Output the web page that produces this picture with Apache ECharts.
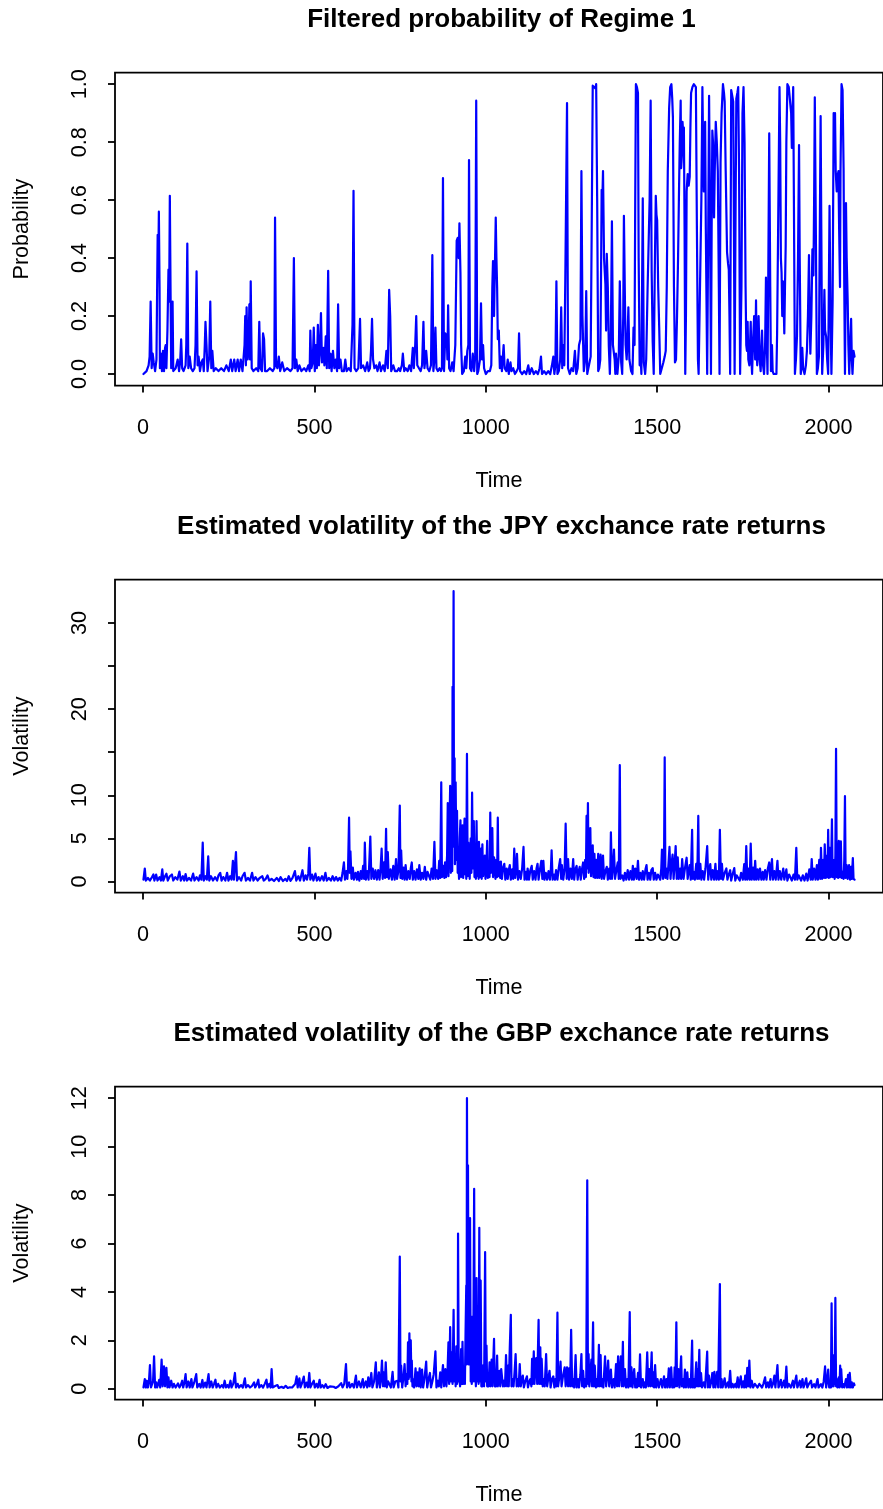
<!DOCTYPE html>
<html>
<head>
<meta charset="utf-8">
<script src="https://cdn.jsdelivr.net/npm/echarts@6/dist/echarts.min.js"></script>
<style>
html,body{margin:0;padding:0;background:#fff;}
#chart{width:883px;height:1509px;}
</style>
</head>
<body>
<div id="chart"></div>
<script>
// ---------- DATA ----------
const titles = [
  'Filtered probability of Regime 1',
  'Estimated volatility of the JPY exchance rate returns',
  'Estimated volatility of the GBP exchance rate returns'
];
const yNames = ['Probability', 'Volatility', 'Volatility'];
const xName = 'Time';
const xTicks = [0, 500, 1000, 1500, 2000];
const yTicksProb = [0, 0.2, 0.4, 0.6, 0.8, 1.0];
const yTicksJPY = [0, 5, 10, 15, 20, 25, 30];
const yLabelsJPY = [0, 5, 10, 20, 30];
const yTicksGBP = [0, 2, 4, 6, 8, 10, 12];

// [time, probability]
const regimeProb = [
[1,0],[10,0.01],[16,0.03],[19,0.06],[22,0.25],[25,0.02],[28,0.07],[31,0.04],[35,0.01],[39,0.05],[41,0.3],[42.5,0.48],[44,0.35],[46,0.56],[48,0.3],[49,0.02],[52,0.07],[55,0.01],[58,0.08],[61,0.01],[64,0.09],[66,0.1],[68,0.02],[71,0.15],[74,0.36],[76,0.25],[78,0.615],[80,0.3],[82,0.02],[86,0.25],[88,0.01],[95,0.02],[101,0.05],[105,0.01],[108,0.04],[111,0.12],[114,0.02],[118,0.01],[124,0.03],[126,0.1],[129,0.45],[132,0.02],[136,0.06],[140,0.02],[145,0.01],[150,0.02],[153,0.1],[156,0.354],[159,0.03],[162,0.06],[166,0.01],[170,0.04],[174,0.05],[177,0.01],[180,0.1],[182,0.18],[185,0.1],[188,0.01],[193,0.06],[196,0.25],[199,0.02],[202,0.08],[206,0.01],[212,0.02],[220,0.01],[228,0.02],[236,0.01],[243,0.03],[250,0.01],[256,0.05],[260,0.01],[266,0.05],[270,0.01],[276,0.05],[280,0.01],[285,0.05],[290,0.01],[296,0.1],[298,0.2],[300,0.03],[302,0.23],[305,0.05],[308,0.1],[310,0.24],[312,0.05],[314,0.32],[317,0.02],[322,0.01],[330,0.02],[336,0.01],[339,0.18],[342,0.02],[347,0.01],[350,0.14],[353,0.12],[356,0.01],[362,0.01],[370,0.02],[378,0.01],[383,0.02],[385,0.54],[388,0.03],[392,0.02],[396,0.06],[400,0.01],[406,0.04],[412,0.01],[420,0.02],[430,0.01],[436,0.02],[440,0.40],[443,0.02],[447,0.05],[451,0.01],[456,0.03],[462,0.01],[470,0.02],[476,0.01],[482,0.03],[486,0.01],[488,0.15],[491,0.02],[495,0.04],[498,0.16],[501,0.01],[504,0.1],[507,0.02],[510,0.17],[513,0.03],[516,0.08],[519,0.21],[522,0.04],[526,0.09],[529,0.03],[533,0.13],[536,0.02],[540,0.356],[543,0.02],[547,0.07],[550,0.01],[554,0.08],[558,0.02],[562,0.05],[566,0.01],[569,0.24],[572,0.02],[576,0.05],[580,0.01],[586,0.01],[590,0.05],[594,0.01],[600,0.02],[606,0.01],[611,0.17],[614,0.632],[617,0.02],[622,0.01],[628,0.02],[633,0.19],[636,0.02],[642,0.03],[648,0.01],[654,0.04],[658,0.01],[662,0.02],[665,0.08],[668,0.19],[671,0.05],[675,0.02],[680,0.03],[684,0.01],[690,0.04],[694,0.01],[700,0.03],[705,0.01],[710,0.08],[714,0.02],[718,0.29],[721,0.2],[724,0.01],[730,0.03],[735,0.01],[741,0.01],[746,0.02],[750,0.01],[755,0.03],[758,0.07],[762,0.01],[766,0.02],[772,0.01],[777,0.03],[782,0.01],[787,0.09],[790,0.02],[794,0.1],[797,0.2],[800,0.03],[805,0.02],[810,0.01],[814,0.03],[818,0.18],[821,0.02],[826,0.08],[830,0.02],[835,0.01],[840,0.03],[844,0.41],[847,0.01],[850,0.05],[853,0.16],[856,0.02],[860,0.01],[865,0.02],[869,0.01],[872,0.02],[875,0.676],[878,0.01],[882,0.14],[886,0.13],[888,0.05],[890,0.237],[893,0.02],[897,0.01],[902,0.04],[906,0.01],[911,0.1],[915,0.46],[918,0.47],[921,0.4],[923,0.52],[926,0.35],[928,0.1],[931,0.0],[936,0.01],[940,0.06],[943,0.02],[946,0.08],[949,0.1],[951,0.738],[954,0.02],[958,0.01],[962,0.07],[966,0.01],[969,0.06],[972,0.943],[975,0.0],[978,0.01],[983,0.05],[986,0.244],[989,0.05],[992,0.1],[995,0.02],[1000,0.0],[1006,0.01],[1012,0.01],[1016,0.03],[1019,0.3],[1021,0.39],[1024,0.2],[1027,0.4],[1029,0.54],[1031,0.4],[1033,0.3],[1035,0.12],[1038,0.15],[1041,0.02],[1044,0.06],[1047,0.01],[1052,0.1],[1055,0.02],[1060,0.01],[1064,0.05],[1067,0.0],[1072,0.04],[1075,0.01],[1080,0.02],[1085,0.0],[1090,0.01],[1094,0.02],[1097,0.14],[1100,0.01],[1106,0.0],[1112,0.01],[1118,0.0],[1124,0.03],[1128,0.0],[1134,0.02],[1140,0.0],[1146,0.01],[1152,0.0],[1157,0.02],[1161,0.06],[1164,0.0],[1170,0.01],[1176,0.0],[1182,0.01],[1188,0.0],[1193,0.03],[1197,0.06],[1200,0.0],[1203,0.03],[1206,0.32],[1209,0.0],[1213,0.01],[1217,0.05],[1220,0.23],[1223,0.02],[1226,0.1],[1229,0.03],[1232,0.33],[1237,0.935],[1240,0.02],[1245,0.0],[1250,0.02],[1255,0.01],[1260,0.08],[1264,0.0],[1268,0.02],[1272,0.1],[1276,0.12],[1279,0.70],[1282,0.2],[1286,0.01],[1290,0.05],[1293,0.286],[1296,0.0],[1301,0.0],[1306,0.06],[1309,0.5],[1312,0.995],[1317,0.99],[1320,0.985],[1322,1.0],[1325,0.6],[1328,0.01],[1331,0.02],[1334,0.05],[1336,0.3],[1338,0.635],[1340,0.6],[1342,0.70],[1345,0.4],[1349,0.31],[1351,0.15],[1353,0.415],[1356,0.3],[1359,0.095],[1362,0.0],[1365,0.15],[1368,0.527],[1371,0.1],[1373,0.095],[1376,0.05],[1378,0.0],[1380,0.07],[1384,0.0],[1388,0.06],[1391,0.32],[1395,0.04],[1398,0.0],[1401,0.2],[1403,0.546],[1406,0.25],[1408,0.1],[1411,0.05],[1413,0.1],[1416,0.23],[1419,0.05],[1424,0.01],[1428,0.0],[1431,0.16],[1434,0.1],[1436,0.6],[1438,1.0],[1441,0.99],[1444,0.97],[1446,0.4],[1449,0.03],[1451,0.08],[1454,0.0],[1458,0.606],[1461,0.04],[1465,0.0],[1468,0.05],[1472,0.29],[1475,0.29],[1478,0.6],[1481,0.943],[1484,0.35],[1487,0.11],[1490,0.0],[1493,0.35],[1496,0.615],[1498,0.55],[1500,0.53],[1503,0.3],[1506,0.16],[1509,0.0],[1513,0.0],[1518,0.04],[1522,0.06],[1525,0.08],[1528,0.3],[1531,0.7],[1535,0.92],[1538,0.99],[1541.6,1.0],[1544,0.95],[1546,0.885],[1549,0.3],[1552,0.04],[1555,0.05],[1558,0.2],[1561,0.4],[1564,0.65],[1566,0.8],[1568.6,0.943],[1570,0.71],[1572,0.75],[1574,0.87],[1576,0.83],[1578,0.85],[1580,0.5],[1582,0.0],[1584,0.2],[1586,0.63],[1589,0.69],[1592,0.65],[1595,0.68],[1597,0.85],[1599,0.97],[1603,0.99],[1607,1.0],[1611,1.0],[1613,0.99],[1616,0.5],[1619,0.05],[1621,0.0],[1626,0.0],[1629,0.6],[1632,0.99],[1634,0.8],[1636,0.63],[1638,0.75],[1640,0.87],[1642,0.5],[1644,0.25],[1646,0.0],[1649,0.5],[1651.5,0.96],[1654,0.6],[1657,0.0],[1659,0.5],[1661,0.84],[1663,0.8],[1666,0.54],[1668,0.7],[1671,0.87],[1674,0.8],[1677,0.7],[1680,0.3],[1682,0.0],[1685,0.73],[1688,0.9],[1692,1.0],[1695,0.97],[1697,0.94],[1700,0.7],[1704,0.42],[1707,0.38],[1709,0.36],[1711,0.2],[1713,0.0],[1716,0.98],[1719,0.96],[1722,0.94],[1724,0.5],[1726,0.0],[1729,0.6],[1731,0.95],[1734,0.97],[1736.5,0.99],[1739,0.7],[1742,0.0],[1746,0.3],[1749,0.9],[1752,0.99],[1755,0.8],[1758,0.3],[1760,0.1],[1762,0.08],[1764,0.18],[1766,0.05],[1769,0.03],[1771,0.1],[1773,0.18],[1775,0.05],[1777,0.0],[1780,0.12],[1783,0.2],[1786,0.05],[1788.5,0.254],[1790,0.1],[1792,0.03],[1794,0.1],[1796,0.2],[1799,0.05],[1802,0.01],[1804,0.08],[1806,0.15],[1809,0.03],[1812,0.0],[1815,0.1],[1817.5,0.333],[1820,0.1],[1822,0.0],[1824,0.3],[1827,0.83],[1830,0.3],[1832,0.01],[1835,0.1],[1837,0.01],[1840,0.0],[1848,0.0],[1850,0.14],[1853,0.5],[1857,0.99],[1859,0.8],[1861,0.4],[1863,0.35],[1865,0.2],[1867,0.32],[1869,0.25],[1871,0.14],[1873,0.3],[1875,0.44],[1877,0.8],[1880,1.0],[1884,0.99],[1888,0.995],[1891,0.9],[1893,0.78],[1895,0.9],[1897,0.99],[1899,0.6],[1902,0.0],[1905,0.05],[1908,0.13],[1911,0.4],[1914,0.79],[1916,0.4],[1919,0.0],[1921,0.02],[1923.5,0.09],[1926,0.02],[1930,0.0],[1934,0.03],[1937,0.08],[1940,0.2],[1943,0.41],[1945,0.2],[1947,0.07],[1950,0.2],[1953,0.43],[1956,0.34],[1958,0.6],[1960,0.955],[1963,0.5],[1966,0.0],[1969,0.02],[1972,0.06],[1974,0.4],[1977,0.89],[1979,0.5],[1981.5,0.0],[1985,0.1],[1988,0.29],[1990,0.15],[1993,0.13],[1996,0.05],[1999,0.0],[2001,0.3],[2003,0.58],[2006,0.2],[2008.5,0.0],[2010,0.1],[2012,0.25],[2015,0.9],[2017,0.88],[2019,0.9],[2021,0.7],[2024,0.63],[2026,0.68],[2029,0.7],[2031,0.5],[2033.5,0.3],[2035,0.7],[2038,1.0],[2041,0.98],[2044,0.71],[2046,0.3],[2048,0.0],[2050,0.3],[2051,0.59],[2053,0.4],[2056,0.25],[2058,0.1],[2060.5,0.0],[2063,0.1],[2066,0.19],[2068,0.05],[2070,0.0],[2073,0.08],[2076,0.06]
];

// [time, volatility] JPY
const volJPY = [
[1,0.2],[5,1.5],[8,0.1],[14,0.4],[20,0.1],[26,0.5],[30,0.8],[33,0.1],[38,0.8],[42,0.1],[48,0.5],[52,0.1],[56,1.4],[59,0.1],[64,0.6],[68,0.9],[72,0.1],[78,0.6],[84,0.8],[88,0.1],[94,0.5],[100,0.2],[106,1.15],[110,0.1],[116,0.6],[120,0.1],[124,0.85],[128,0.1],[134,0.4],[140,0.1],[146,0.9],[150,0.1],[156,0.5],[162,0.1],[166,0.7],[170,0.2],[174,4.5],[177,0.1],[182,0.6],[186,0.2],[190,2.9],[193,0.1],[198,0.6],[204,0.1],[210,0.5],[216,0.1],[220,0.7],[225,1.0],[229,0.1],[234,0.5],[240,0.1],[245,1.0],[249,0.1],[254,0.6],[258,0.2],[262,2.4],[265,0.2],[271,3.4],[274,0.1],[280,0.5],[286,0.1],[290,0.6],[296,1.0],[300,0.1],[306,0.4],[312,0.1],[318,1.0],[322,0.1],[328,0.5],[334,0.1],[340,0.4],[348,0.6],[352,0.1],[358,0.3],[363,0.7],[368,0.1],[375,0.3],[382,0.05],[390,0.4],[396,0.05],[401,0.5],[408,0.05],[415,0.3],[420,0.05],[425,0.6],[430,0.05],[436,0.4],[443,1.2],[447,0.1],[453,0.6],[458,0.1],[465,1.3],[469,0.1],[474,0.7],[478,0.2],[482,0.9],[485,3.9],[488,0.2],[493,0.8],[497,0.1],[503,0.9],[507,0.1],[512,0.5],[516,0.1],[522,0.6],[527,0.1],[532,1.0],[536,0.1],[542,0.4],[548,0.1],[553,0.6],[558,0.1],[563,0.5],[568,0.1],[573,0.4],[578,0.1],[582,1.0],[586,2.2],[589,0.2],[593,1.2],[596,0.3],[598,1.5],[601,7.4],[603,1.0],[605,3.5],[608,0.3],[612,1.6],[615,0.2],[620,1.0],[624,0.2],[627,1.1],[631,0.1],[635,1.2],[638,0.3],[642,1.8],[645,0.3],[647,4.5],[650,0.2],[654,1.2],[658,0.2],[663,5.2],[666,0.3],[670,1.5],[674,0.3],[678,1.3],[682,0.2],[686,1.3],[690,0.2],[693,1.5],[696,3.8],[699,0.3],[703,2.2],[706,0.4],[709,6.1],[711,0.5],[714,3.4],[717,0.3],[722,1.4],[726,0.2],[730,1.8],[734,0.2],[738,2.6],[741,0.3],[745,1.2],[749,8.8],[751,0.4],[753,3.6],[756,0.3],[760,1.6],[763,0.2],[766,1.9],[770,0.2],[774,1.2],[778,0.3],[781,1.5],[784,2.2],[787,0.2],[791,1.2],[795,0.2],[799,1.4],[803,0.3],[806,1.9],[810,0.2],[814,1.0],[818,0.3],[822,1.7],[826,0.2],[830,1.1],[835,1.2],[838,0.2],[842,1.5],[846,0.3],[850,4.6],[853,0.3],[857,1.3],[861,0.3],[864,2.4],[867,0.4],[870,11.5],[872,0.5],[876,1.8],[879,0.4],[881,2.2],[884,0.5],[887,3.0],[889,9.1],[891,0.6],[893,4.0],[896,11.1],[898,1.0],[900,8.4],[902,1.2],[903,22.6],[904,4.0],[906,33.7],[907,10.0],[909,14.3],[910,2.0],[912,11.5],[914,2.5],[916,8.2],[918,1.0],[920,1.9],[922,0.3],[924,5.0],[926,7.1],[928,0.5],[930,4.5],[932,6.5],[934,0.4],[936,5.0],[938,7.3],[940,0.8],[942,3.0],[943,0.3],[945,14.8],[947,0.6],[949,4.5],[951,2.6],[953,0.3],[956,5.0],[958,1.0],[960,10.3],[962,1.5],[965,7.0],[967,0.5],[969,2.2],[971,0.3],[973,7.0],[975,0.6],[977,3.5],[979,0.3],[980,4.6],[983,0.5],[986,3.8],[988,0.3],[990,4.3],[992,0.6],[995,2.5],[997,3.0],[999,0.3],[1002,2.0],[1004,4.7],[1006,0.4],[1009,2.2],[1011,0.5],[1013,8.0],[1015,1.0],[1017,3.5],[1019,6.2],[1021,0.5],[1024,2.8],[1026,2.2],[1028,0.3],[1031,2.5],[1033,0.5],[1035,7.4],[1037,0.6],[1040,2.2],[1042,0.4],[1044,2.3],[1047,0.3],[1050,1.5],[1054,2.05],[1057,0.2],[1061,1.5],[1064,0.3],[1067,1.3],[1070,1.9],[1073,0.2],[1077,1.4],[1080,0.3],[1083,3.8],[1086,0.4],[1089,1.6],[1091,3.2],[1094,0.2],[1098,1.2],[1102,0.3],[1106,1.5],[1110,4.0],[1113,0.2],[1117,1.1],[1120,0.2],[1122,1.5],[1126,0.2],[1130,1.3],[1134,1.8],[1137,0.2],[1141,1.2],[1145,0.2],[1148,1.5],[1151,2.05],[1154,0.2],[1158,1.4],[1162,2.4],[1165,0.3],[1168,2.4],[1171,0.2],[1175,1.0],[1179,0.2],[1183,1.2],[1187,0.2],[1190,1.5],[1192,3.6],[1195,0.2],[1199,0.8],[1202,0.2],[1205,1.3],[1209,0.2],[1213,1.6],[1217,2.6],[1220,0.3],[1222,1.9],[1226,0.2],[1230,1.5],[1233,6.7],[1236,0.3],[1240,2.6],[1243,0.2],[1247,1.5],[1251,0.3],[1255,2.6],[1258,0.2],[1261,1.4],[1265,1.8],[1268,0.2],[1271,1.2],[1274,1.7],[1277,0.2],[1281,1.5],[1284,2.2],[1287,0.3],[1290,2.5],[1292,0.5],[1294,7.6],[1296,1.5],[1298,9.1],[1300,1.0],[1303,3.0],[1305,6.2],[1307,0.6],[1310,3.0],[1312,4.2],[1314,0.5],[1317,3.2],[1319,0.4],[1322,2.5],[1325,0.4],[1328,3.2],[1331,0.4],[1335,3.1],[1338,0.3],[1342,3.0],[1345,0.3],[1349,1.2],[1353,1.7],[1356,0.2],[1360,1.5],[1363,0.3],[1365,5.7],[1368,0.3],[1371,1.5],[1374,3.7],[1377,0.3],[1381,1.3],[1385,2.2],[1388,0.3],[1391,13.5],[1393,0.3],[1398,0.7],[1402,0.1],[1406,1.0],[1410,0.2],[1414,1.3],[1418,0.2],[1422,1.2],[1426,0.2],[1429,1.8],[1432,0.2],[1436,1.5],[1440,0.3],[1444,2.4],[1447,0.2],[1451,1.0],[1455,0.2],[1458,1.2],[1462,0.2],[1466,1.4],[1469,1.9],[1472,0.2],[1476,1.0],[1480,0.2],[1483,1.3],[1487,1.55],[1490,0.2],[1494,1.0],[1498,0.2],[1502,0.8],[1506,0.9],[1509,0.2],[1512,1.5],[1514,3.7],[1517,0.3],[1520,2.0],[1522,14.4],[1524,0.4],[1527,1.5],[1530,0.3],[1533,2.0],[1536,4.0],[1539,0.3],[1542,2.0],[1545,3.1],[1548,0.3],[1551,2.0],[1554,4.1],[1557,0.3],[1560,2.8],[1563,0.3],[1567,1.5],[1570,0.3],[1573,2.6],[1577,0.3],[1581,1.5],[1586,2.75],[1589,0.3],[1592,1.2],[1595,1.9],[1598,0.2],[1602,6.0],[1604,0.3],[1607,1.1],[1610,0.2],[1614,2.05],[1617,0.3],[1620,7.6],[1622,0.3],[1626,2.05],[1629,0.2],[1633,1.2],[1637,0.2],[1641,1.5],[1646,4.1],[1649,0.2],[1652,1.4],[1655,2.0],[1658,0.2],[1662,1.3],[1666,0.2],[1670,2.05],[1673,0.2],[1677,1.2],[1680,0.2],[1683,6.0],[1686,0.3],[1689,2.05],[1692,0.2],[1697,1.0],[1702,1.5],[1705,0.2],[1709,0.8],[1713,1.3],[1716,0.1],[1720,0.8],[1725,1.55],[1728,0.1],[1732,0.7],[1737,0.9],[1741,0.1],[1745,1.0],[1750,0.2],[1754,2.0],[1757,0.2],[1760,4.1],[1763,0.2],[1767,1.5],[1770,0.2],[1773,4.4],[1776,0.2],[1780,1.6],[1783,0.2],[1786,2.4],[1789,0.2],[1793,1.4],[1796,0.2],[1800,1.5],[1804,0.2],[1808,1.1],[1811,0.2],[1815,1.3],[1819,0.2],[1823,1.5],[1827,2.2],[1830,0.2],[1835,2.6],[1838,0.2],[1842,1.2],[1846,0.2],[1851,2.4],[1854,0.2],[1858,1.2],[1862,0.2],[1868,1.5],[1871,0.2],[1877,1.4],[1880,0.1],[1885,0.8],[1890,1.0],[1893,0.1],[1898,0.8],[1902,0.2],[1906,3.9],[1909,0.2],[1913,0.7],[1916,0.9],[1920,0.1],[1925,0.7],[1930,0.1],[1935,0.9],[1939,0.1],[1944,1.4],[1948,0.2],[1951,2.6],[1954,0.2],[1958,1.5],[1962,0.2],[1966,1.9],[1969,0.2],[1973,2.5],[1976,0.3],[1978,3.9],[1981,0.3],[1985,2.5],[1987,0.4],[1989,4.3],[1992,0.4],[1995,3.0],[1997,0.5],[1999,6.0],[2001,0.4],[2004,3.9],[2006,0.5],[2008,2.5],[2010,7.2],[2012,0.5],[2014,2.5],[2016,1.5],[2018,0.3],[2020,3.0],[2022,15.4],[2024,0.5],[2026,2.2],[2028,0.4],[2030,4.7],[2032,0.5],[2034,2.0],[2036,4.65],[2038,0.4],[2041,1.1],[2044,0.3],[2046,2.5],[2048,9.9],[2050,0.4],[2053,1.9],[2056,0.3],[2060,1.9],[2063,0.2],[2066,1.7],[2068,0.3],[2071,2.7],[2073,0.3],[2076,0.2]
];

// [time, volatility] GBP
const volGBP = [
[1,0.05],[5,0.4],[8,0.05],[11,0.33],[14,0.05],[17,0.3],[20,0.98],[23,0.05],[26,0.1],[29,0.3],[32,1.34],[35,0.05],[38,0.26],[41,0.05],[44,0.2],[47,0.37],[50,0.05],[54,1.2],[57,0.1],[61,0.92],[64,0.1],[68,0.86],[71,0.05],[74,0.47],[77,0.05],[82,0.33],[86,0.05],[90,0.2],[95,0.05],[102,0.22],[106,0.05],[110,0.15],[114,0.33],[117,0.05],[121,0.3],[124,0.6],[127,0.05],[132,0.3],[136,0.05],[141,0.4],[144,0.05],[149,0.25],[155,0.6],[158,0.05],[164,0.2],[168,0.05],[173,0.36],[176,0.05],[181,0.25],[185,0.05],[191,0.6],[194,0.05],[199,0.3],[203,0.05],[207,0.2],[211,0.37],[214,0.05],[219,0.2],[224,0.05],[230,0.15],[234,0.05],[238,0.33],[242,0.05],[246,0.15],[250,0.05],[255,0.33],[258,0.05],[263,0.2],[268,0.65],[271,0.05],[276,0.2],[280,0.05],[286,0.15],[291,0.05],[297,0.43],[300,0.05],[306,0.15],[312,0.05],[318,0.12],[324,0.26],[327,0.05],[331,0.15],[336,0.37],[339,0.05],[345,0.15],[350,0.05],[355,0.2],[360,0.37],[363,0.05],[368,0.2],[372,0.05],[375,0.81],[378,0.05],[384,0.1],[392,0.15],[396,0.03],[404,0.08],[410,0.03],[416,0.12],[422,0.03],[428,0.06],[435,0.05],[440,0.03],[444,0.2],[448,0.51],[451,0.05],[456,0.43],[459,0.05],[463,0.2],[469,0.5],[472,0.05],[477,0.25],[481,0.05],[485,0.65],[488,0.05],[493,0.2],[498,0.33],[501,0.05],[506,0.2],[510,0.05],[515,0.37],[518,0.05],[523,0.15],[528,0.05],[533,0.19],[538,0.03],[545,0.1],[550,0.03],[556,0.08],[562,0.03],[570,0.1],[575,0.03],[578,0.23],[582,0.05],[587,0.2],[592,1.02],[595,0.05],[601,0.26],[604,0.05],[610,0.2],[615,0.05],[621,0.54],[624,0.05],[630,0.3],[635,0.05],[641,0.4],[644,0.05],[650,0.3],[654,0.05],[657,0.47],[661,0.1],[666,0.65],[669,0.05],[674,0.3],[679,1.09],[682,0.05],[685,0.3],[688,0.68],[691,0.05],[694,0.4],[697,1.16],[700,0.1],[702,0.68],[705,0.1],[708,1.09],[711,0.05],[715,0.3],[720,0.33],[723,0.05],[728,0.7],[731,0.05],[736,0.3],[742,0.33],[745,0.05],[749,5.46],[751,0.3],[753,0.95],[756,0.05],[760,0.5],[763,1.02],[766,0.1],[768,0.6],[771,0.2],[773,1.92],[775,0.4],[777,2.29],[779,0.5],[781,2.0],[783,0.3],[784,1.16],[786,0.1],[788,0.4],[791,0.05],[795,0.84],[798,0.1],[801,0.68],[804,0.1],[807,0.84],[810,0.05],[814,0.79],[817,0.05],[821,0.4],[826,1.12],[829,0.05],[833,0.4],[837,0.65],[840,0.05],[844,0.3],[848,0.6],[853,1.54],[856,0.05],[860,0.33],[863,0.1],[867,0.68],[870,0.05],[872,0.5],[875,0.98],[878,0.1],[882,0.81],[885,0.1],[888,0.6],[891,1.92],[893,0.2],[896,2.54],[898,0.3],[901,1.5],[903,0.2],[906,3.26],[908,0.3],[911,0.95],[912,0.1],[914,1.75],[916,0.2],[918,1.0],[919,6.41],[921,0.3],[923,0.4],[925,0.1],[928,1.64],[930,0.2],[932,1.94],[934,0.2],[937,0.81],[939,0.2],[941,2.4],[943,4.26],[944,1.0],[945,12.0],[947,2.0],[948,9.23],[950,1.0],[951,5.64],[953,1.0],[954,7.05],[956,0.3],[957,0.95],[959,0.2],[961,2.98],[963,0.3],[966,8.26],[968,0.3],[970,0.54],[971,0.1],[973,4.57],[975,0.3],[977,3.16],[979,0.2],[981,6.65],[983,0.3],[985,4.47],[987,0.1],[988,0.4],[990,0.1],[993,0.98],[995,0.1],[998,5.64],[1000,0.3],[1002,1.78],[1004,0.1],[1006,0.4],[1008,0.1],[1011,1.09],[1013,0.1],[1017,1.2],[1019,0.1],[1021,0.8],[1024,2.06],[1026,0.1],[1028,0.4],[1030,0.1],[1033,1.37],[1035,0.1],[1038,0.6],[1040,0.74],[1042,0.1],[1045,0.81],[1047,0.84],[1050,0.1],[1053,0.33],[1056,0.1],[1059,1.39],[1062,0.1],[1065,0.95],[1067,0.1],[1070,1.71],[1073,3.05],[1075,0.1],[1078,0.4],[1081,0.1],[1084,0.7],[1087,1.43],[1090,0.1],[1093,0.4],[1096,0.1],[1099,1.02],[1102,0.1],[1105,0.4],[1108,0.54],[1111,0.05],[1115,0.3],[1120,0.51],[1123,0.05],[1127,0.3],[1130,0.4],[1133,0.1],[1135,1.23],[1137,0.2],[1140,1.54],[1142,0.2],[1144,0.8],[1147,1.26],[1150,0.2],[1154,2.84],[1156,0.2],[1159,1.71],[1161,0.2],[1163,1.23],[1166,0.1],[1169,0.4],[1172,0.1],[1176,1.43],[1179,0.1],[1182,0.4],[1186,0.74],[1189,0.05],[1193,0.4],[1197,0.51],[1200,0.05],[1203,0.4],[1206,0.1],[1209,3.14],[1211,0.1],[1215,0.54],[1218,1.12],[1221,0.1],[1225,0.5],[1230,0.88],[1233,0.1],[1237,0.88],[1240,0.1],[1243,0.84],[1246,0.1],[1249,2.43],[1252,0.1],[1255,0.4],[1258,0.05],[1262,1.39],[1265,0.05],[1269,0.4],[1272,0.05],[1276,0.6],[1279,1.43],[1281,0.1],[1284,0.74],[1287,0.05],[1290,0.4],[1293,0.1],[1296,8.61],[1298,0.2],[1300,1.43],[1302,0.1],[1305,0.6],[1308,1.2],[1310,0.1],[1313,2.74],[1315,0.1],[1318,0.95],[1321,0.05],[1324,0.4],[1327,0.1],[1330,1.81],[1332,0.1],[1335,1.39],[1337,0.1],[1340,0.4],[1343,0.05],[1348,1.34],[1351,0.1],[1354,0.5],[1357,1.16],[1360,0.1],[1365,0.79],[1368,0.05],[1373,0.4],[1376,0.05],[1380,1.02],[1383,0.1],[1386,1.34],[1389,0.1],[1394,1.34],[1397,0.1],[1400,1.94],[1402,0.1],[1406,0.81],[1409,0.05],[1413,0.4],[1416,0.05],[1420,3.16],[1422,0.1],[1425,0.88],[1428,0.05],[1433,0.81],[1436,0.05],[1438,0.4],[1441,0.05],[1444,0.65],[1447,0.1],[1450,1.42],[1453,0.05],[1458,0.4],[1461,0.05],[1464,0.26],[1467,0.05],[1471,1.5],[1474,0.1],[1477,0.81],[1480,0.1],[1484,1.5],[1486,0.1],[1489,0.68],[1491,0.05],[1494,0.98],[1497,0.05],[1501,0.4],[1505,0.05],[1511,0.4],[1515,0.05],[1520,0.51],[1523,0.05],[1527,0.4],[1530,0.05],[1534,0.84],[1537,0.05],[1541,0.88],[1544,0.05],[1547,0.4],[1549,0.05],[1551,0.88],[1553,0.1],[1556,2.74],[1558,0.1],[1562,0.81],[1565,0.05],[1570,1.34],[1572,0.1],[1575,0.4],[1578,0.05],[1581,0.79],[1584,0.05],[1588,0.68],[1591,0.05],[1595,0.4],[1598,0.05],[1602,1.99],[1604,0.05],[1607,0.4],[1610,0.05],[1614,1.09],[1616,0.1],[1618,0.81],[1620,0.1],[1623,1.61],[1625,0.1],[1628,0.65],[1631,0.05],[1636,0.26],[1640,0.05],[1646,1.53],[1648,0.05],[1651,0.54],[1654,0.05],[1658,0.3],[1661,0.65],[1664,0.05],[1667,0.7],[1670,0.05],[1675,0.7],[1678,0.05],[1683,4.32],[1685,0.05],[1688,0.4],[1691,0.05],[1697,0.43],[1700,0.05],[1706,0.26],[1709,0.05],[1713,0.74],[1716,0.05],[1720,0.2],[1723,0.05],[1728,0.2],[1731,0.05],[1735,0.47],[1738,0.05],[1744,0.51],[1747,0.05],[1751,0.3],[1754,0.05],[1757,0.54],[1760,0.05],[1763,0.86],[1766,0.1],[1769,1.16],[1772,0.05],[1776,0.33],[1780,0.05],[1785,0.2],[1790,0.19],[1793,0.05],[1798,0.2],[1803,0.26],[1806,0.05],[1810,0.2],[1815,0.47],[1818,0.05],[1823,0.26],[1826,0.05],[1831,0.4],[1834,0.05],[1838,0.2],[1842,0.54],[1845,0.05],[1851,0.98],[1854,0.05],[1858,0.2],[1861,0.37],[1864,0.05],[1870,0.33],[1873,0.05],[1877,0.91],[1880,0.05],[1884,0.2],[1887,0.26],[1890,0.05],[1896,0.33],[1899,0.05],[1906,0.54],[1909,0.05],[1913,0.2],[1916,0.33],[1919,0.05],[1924,0.4],[1927,0.05],[1931,0.2],[1935,0.43],[1938,0.05],[1943,0.2],[1949,0.33],[1952,0.05],[1958,0.19],[1962,0.05],[1968,0.4],[1971,0.05],[1978,0.19],[1982,0.05],[1986,0.3],[1990,0.92],[1993,0.05],[1996,0.3],[1999,0.79],[2002,0.05],[2005,0.26],[2007,0.05],[2009,3.53],[2011,0.1],[2013,0.54],[2015,0.1],[2016,1.39],[2018,0.2],[2020,3.75],[2022,0.1],[2024,0.4],[2026,0.05],[2030,0.47],[2032,0.05],[2034,0.95],[2036,0.1],[2037,0.81],[2040,0.05],[2043,0.19],[2046,0.05],[2051,0.4],[2054,0.05],[2057,0.57],[2060,0.05],[2062,0.65],[2065,0.05],[2068,0.26],[2071,0.05],[2074,0.22],[2076,0.15]
];

// ---------- CHART ----------
const FONT = '"Liberation Sans", Arial, Helvetica, sans-serif';
const FS = 21.6;
const LW = 1.8;
const SERIES_LW = 2.2;
const BLUE = '#0000ff';
const tops = [72.6, 579.6, 1086.6];
const H = 313;
const yRanges = [[-0.04, 1.04], [-1.3, 35.05], [-0.45, 12.48]];
const yTickSets = [yTicksProb, yTicksJPY, yTicksGBP];
const yLabelSets = [yTicksProb, yLabelsJPY, yTicksGBP];
const yFormat = [v => v.toFixed(1), v => String(v), v => String(v)];
const seriesData = [regimeProb, volJPY, volGBP];
const titleCenters = [20, 527, 1034];

const chart = echarts.init(document.getElementById('chart'), null, {renderer: 'canvas'});
const option = {
  animation: false,
  backgroundColor: '#ffffff',
  title: titles.map((t, i) => ({
    text: t, left: 501.5, top: titleCenters[i] - 13, textAlign: 'center', padding: 0,
    textStyle: {fontFamily: FONT, fontSize: 26, fontWeight: 'bold', color: '#000', lineHeight: 26}
  })),
  grid: tops.map(t => ({
    left: 115, top: t, width: 773, height: H, show: true,
    borderColor: '#000', borderWidth: LW, backgroundColor: 'transparent', containLabel: false
  })),
  xAxis: tops.map((t, i) => ({
    type: 'value', gridIndex: i, min: -82, max: 2159, position: 'bottom',
    name: xName, nameLocation: 'middle', nameGap: 85,
    nameTextStyle: {fontFamily: FONT, fontSize: FS, color: '#000', lineHeight: FS},
    axisLine: {show: false, onZero: false},
    splitLine: {show: false},
    axisTick: {show: true, inside: false, length: 7, customValues: xTicks, lineStyle: {color: '#000', width: LW}},
    axisLabel: {show: true, margin: 32, customValues: xTicks, formatter: v => String(v),
      fontFamily: FONT, fontSize: FS, color: '#000', lineHeight: FS,
      showMinLabel: true, showMaxLabel: true, hideOverlap: false}
  })),
  yAxis: tops.map((t, i) => ({
    type: 'value', gridIndex: i, min: yRanges[i][0], max: yRanges[i][1], position: 'left',
    name: yNames[i], nameLocation: 'middle', nameGap: 82,
    nameTextStyle: {fontFamily: FONT, fontSize: FS, color: '#000', lineHeight: FS},
    axisLine: {show: false, onZero: false},
    splitLine: {show: false},
    axisTick: {show: true, inside: false, length: 7, customValues: yTickSets[i], lineStyle: {color: '#000', width: LW}},
    axisLabel: {show: true, rotate: 90, margin: 24, customValues: yLabelSets[i], formatter: yFormat[i],
      fontFamily: FONT, fontSize: FS, color: '#000', lineHeight: FS, hideOverlap: false}
  })),
  series: seriesData.map((d, i) => ({
    type: 'line', xAxisIndex: i, yAxisIndex: i, data: d,
    showSymbol: false, symbol: 'none', sampling: null, smooth: false, clip: true,
    lineStyle: {color: BLUE, width: SERIES_LW, join: 'round', cap: 'round'},
    emphasis: {disabled: true}, silent: true
  }))
};
chart.setOption(option);
</script>
</body>
</html>
